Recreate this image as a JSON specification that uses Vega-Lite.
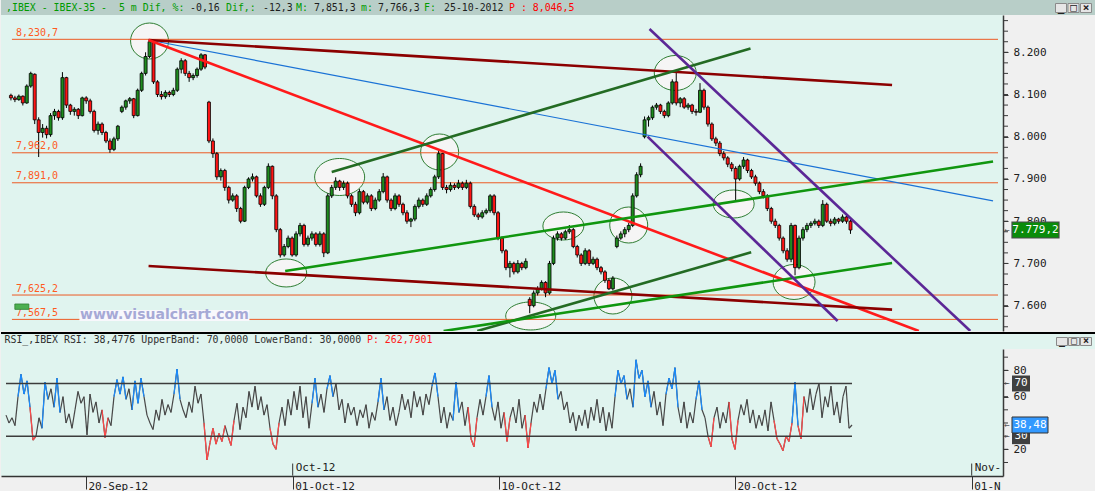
{
"$schema": "https://vega.github.io/schema/vega-lite/v6.json",
"padding": 0,
"spacing": 0,
"background": "#f0f0f0",
"resolve": {"scale": {"color": "independent"}},
"config": {"view": {"stroke": null}, "font": "DejaVu Sans Mono", "text": {"font": "DejaVu Sans Mono"}, "axis": {"labelFont": "DejaVu Sans Mono", "grid": false},
 "locale": {"number": {"decimal": ",", "thousands": ".", "grouping": [3], "currency": ["", "€"]}}},
"datasets": {
"header": [
{"i": 1, "s": ",IBEX\u00a0-\u00a0IBEX-35\u00a0-\u00a0\u00a05\u00a0m\u00a0Dif,\u00a0%:"},
{"i": 2, "s": "-0,16"}, {"i": 3, "s": "Dif,:"}, {"i": 4, "s": "-12,3"}, {"i": 5, "s": "M:"}, {"i": 6, "s": "7,851,3"},
{"i": 7, "s": "m:"}, {"i": 8, "s": "7,766,3"}, {"i": 9, "s": "F:"}, {"i": 10, "s": "25-10-2012"}, {"i": 11, "s": "P\u00a0:\u00a08,046,5"}
],
"rsiheader": [
{"part": "k", "s": "RSI_,IBEX RSI: 38,4776 UpperBand: 70,0000 LowerBand: 30,0000"},
{"part": "r", "s": "P:\u00a0262,7901"}
],
"buttons": [{"b": "_"}, {"b": "□"}, {"b": "×"}],
"hlines": [
{"p": 8230.7, "lab": "8,230,7"}, {"p": 7962.0, "lab": "7,962,0"}, {"p": 7891.0, "lab": "7,891,0"}, {"p": 7625.2, "lab": "7,625,2"}, {"p": 7567.5, "lab": "7,567,5"}
],
"pticks": [{"p":7550},{"p":7575},{"p":7600},{"p":7625},{"p":7650},{"p":7675},{"p":7700},{"p":7725},{"p":7750},{"p":7775},{"p":7800},{"p":7825},{"p":7850},{"p":7875},{"p":7900},{"p":7925},{"p":7950},{"p":7975},{"p":8000},{"p":8025},{"p":8050},{"p":8075},{"p":8100},{"p":8125},{"p":8150},{"p":8175},{"p":8200},{"p":8225},{"p":8250},{"p":8275}],
"rticks": [{"v":10},{"v":20},{"v":30},{"v":40},{"v":50},{"v":60},{"v":70},{"v":80},{"v":90}],
"ellipses": [
{"t": 145, "p": 8226.7, "k": "a"}, {"t": 438, "p": 7963.9, "k": "a"}, {"t": 629, "p": 7791.0, "k": "a"}, {"t": 613, "p": 7622.9, "k": "a"},
{"t": 676, "p": 8151.0, "k": "b"}, {"t": 796, "p": 7656.1, "k": "b"},
{"t": 283, "p": 7677.4, "k": "c"}, {"t": 563, "p": 7788.7, "k": "c"}, {"t": 735, "p": 7840.8, "k": "c"},
{"t": 337, "p": 7904.7, "k": "d"},
{"t": 530, "p": 7575.6, "k": "e"}
],
"trend": [
{"id": "dr1", "t": 144, "p": 8229.1}, {"id": "dr1", "t": 895, "p": 8122.6},
{"id": "rd", "t": 144, "p": 8229.1}, {"id": "rd", "t": 922, "p": 7540},
{"id": "dr2", "t": 144, "p": 7694}, {"id": "dr2", "t": 895, "p": 7590.7},
{"id": "dg1", "t": 329, "p": 7916.6}, {"id": "dg1", "t": 752, "p": 8209.2},
{"id": "lg1", "t": 282, "p": 7682.1}, {"id": "lg1", "t": 997, "p": 7941.4},
{"id": "dg2", "t": 476, "p": 7540}, {"id": "dg2", "t": 752.7, "p": 7726.4},
{"id": "lg2", "t": 442, "p": 7540}, {"id": "lg2", "t": 895, "p": 7701},
{"id": "pu1", "t": 650, "p": 8255.2}, {"id": "pu1", "t": 974, "p": 7540},
{"id": "pu2", "t": 648, "p": 8000.3}, {"id": "pu2", "t": 840, "p": 7563.7}
],
"thin": [{"id": "bl", "t": 144, "p": 8229.1}, {"id": "bl", "t": 997, "p": 7848}],
"marker": [{"t": 16, "p": 7597.6}],
"watermark": [{"t": 160, "p": 7577, "s": "www.visualchart.com"}],
"last": [{"p": 7779.2, "lab": "7.779,2"}],
"candles": [
{"t":5,"o":8098,"h":8102,"l":8086,"c":8092},{"t":9,"o":8092,"h":8097,"l":8082,"c":8088},{"t":13,"o":8088,"h":8100,"l":8085,"c":8096},{"t":17,"o":8096,"h":8098,"l":8074,"c":8080},
{"t":21,"o":8080,"h":8124,"l":8078,"c":8120},{"t":25,"o":8120,"h":8154,"l":8116,"c":8150},{"t":29,"o":8148,"h":8150,"l":8030,"c":8040},{"t":33,"o":8040,"h":8046,"l":7952,"c":8010},
{"t":37,"o":8010,"h":8030,"l":7998,"c":8020},{"t":41,"o":8020,"h":8026,"l":7996,"c":8005},{"t":45,"o":8005,"h":8056,"l":8000,"c":8050},{"t":49,"o":8050,"h":8066,"l":8040,"c":8060},
{"t":53,"o":8060,"h":8064,"l":8038,"c":8045},{"t":57,"o":8045,"h":8153,"l":8040,"c":8140},{"t":61,"o":8140,"h":8142,"l":8068,"c":8075},{"t":65,"o":8075,"h":8078,"l":8052,"c":8060},
{"t":69,"o":8060,"h":8070,"l":8050,"c":8065},{"t":73,"o":8065,"h":8068,"l":8042,"c":8050},{"t":77,"o":8050,"h":8095,"l":8048,"c":8092},{"t":81,"o":8092,"h":8096,"l":8078,"c":8085},
{"t":85,"o":8085,"h":8090,"l":8055,"c":8060},{"t":89,"o":8060,"h":8064,"l":8010,"c":8015},{"t":93,"o":8015,"h":8036,"l":8005,"c":8030},{"t":97,"o":8030,"h":8034,"l":8004,"c":8010},
{"t":101,"o":8010,"h":8014,"l":7985,"c":7990},{"t":105,"o":7990,"h":7996,"l":7962,"c":7970},{"t":109,"o":7970,"h":8000,"l":7966,"c":7995},{"t":113,"o":7995,"h":8028,"l":7990,"c":8025},
{"t":117,"o":8060,"h":8074,"l":8056,"c":8070},{"t":121,"o":8070,"h":8088,"l":8064,"c":8085},{"t":125,"o":8085,"h":8094,"l":8078,"c":8090},{"t":129,"o":8090,"h":8092,"l":8044,"c":8050},
{"t":133,"o":8050,"h":8114,"l":8048,"c":8110},{"t":137,"o":8110,"h":8154,"l":8106,"c":8150},{"t":141,"o":8150,"h":8200,"l":8145,"c":8190},{"t":145,"o":8190,"h":8230.7,"l":8186,"c":8225},
{"t":149,"o":8225,"h":8228,"l":8125,"c":8130},{"t":153,"o":8130,"h":8134,"l":8094,"c":8100},{"t":157,"o":8100,"h":8108,"l":8088,"c":8095},{"t":161,"o":8095,"h":8110,"l":8090,"c":8105},
{"t":165,"o":8105,"h":8109,"l":8094,"c":8100},{"t":169,"o":8100,"h":8116,"l":8096,"c":8110},{"t":173,"o":8110,"h":8164,"l":8106,"c":8160},{"t":177,"o":8160,"h":8186,"l":8150,"c":8180},
{"t":181,"o":8180,"h":8184,"l":8144,"c":8150},{"t":185,"o":8150,"h":8156,"l":8130,"c":8140},{"t":189,"o":8140,"h":8150,"l":8134,"c":8145},{"t":193,"o":8145,"h":8164,"l":8140,"c":8160},
{"t":197,"o":8160,"h":8198,"l":8156,"c":8194},{"t":201,"o":8194,"h":8196,"l":8160,"c":8165},{"t":205,"o":8082,"h":8085,"l":7985,"c":7990},{"t":209,"o":7990,"h":7996,"l":7950,"c":7960},
{"t":213,"o":7960,"h":7964,"l":7898,"c":7905},{"t":217,"o":7905,"h":7925,"l":7896,"c":7920},{"t":221,"o":7920,"h":7924,"l":7872,"c":7880},{"t":225,"o":7880,"h":7884,"l":7842,"c":7850},
{"t":229,"o":7850,"h":7866,"l":7846,"c":7860},{"t":233,"o":7860,"h":7864,"l":7822,"c":7830},{"t":237,"o":7830,"h":7834,"l":7795,"c":7800},{"t":241,"o":7800,"h":7884,"l":7798,"c":7880},
{"t":245,"o":7880,"h":7904,"l":7876,"c":7900},{"t":249,"o":7900,"h":7913,"l":7894,"c":7905},{"t":253,"o":7905,"h":7908,"l":7856,"c":7860},{"t":257,"o":7860,"h":7866,"l":7834,"c":7840},
{"t":261,"o":7840,"h":7884,"l":7836,"c":7880},{"t":265,"o":7880,"h":7937,"l":7876,"c":7930},{"t":269,"o":7930,"h":7932,"l":7852,"c":7860},{"t":273,"o":7860,"h":7864,"l":7774,"c":7780},
{"t":277,"o":7780,"h":7784,"l":7714,"c":7720},{"t":281,"o":7720,"h":7746,"l":7716,"c":7740},{"t":285,"o":7740,"h":7766,"l":7736,"c":7760},{"t":289,"o":7760,"h":7764,"l":7716,"c":7720},
{"t":293,"o":7720,"h":7776,"l":7716,"c":7770},{"t":297,"o":7770,"h":7796,"l":7764,"c":7790},{"t":301,"o":7790,"h":7794,"l":7740,"c":7745},{"t":305,"o":7745,"h":7766,"l":7740,"c":7760},
{"t":309,"o":7760,"h":7776,"l":7754,"c":7770},{"t":313,"o":7770,"h":7774,"l":7740,"c":7745},{"t":317,"o":7745,"h":7776,"l":7740,"c":7770},{"t":321,"o":7770,"h":7774,"l":7715,"c":7725},
{"t":325,"o":7725,"h":7866,"l":7722,"c":7860},{"t":329,"o":7860,"h":7886,"l":7855,"c":7880},{"t":333,"o":7880,"h":7904,"l":7874,"c":7895},{"t":337,"o":7895,"h":7898,"l":7872,"c":7880},
{"t":341,"o":7880,"h":7896,"l":7874,"c":7890},{"t":345,"o":7890,"h":7894,"l":7854,"c":7860},{"t":349,"o":7860,"h":7864,"l":7834,"c":7840},{"t":353,"o":7840,"h":7846,"l":7812,"c":7820},
{"t":357,"o":7820,"h":7876,"l":7816,"c":7870},{"t":361,"o":7870,"h":7874,"l":7840,"c":7845},{"t":365,"o":7845,"h":7866,"l":7840,"c":7860},{"t":369,"o":7860,"h":7864,"l":7824,"c":7830},
{"t":373,"o":7830,"h":7856,"l":7826,"c":7850},{"t":377,"o":7850,"h":7876,"l":7846,"c":7870},{"t":381,"o":7870,"h":7914,"l":7866,"c":7905},{"t":385,"o":7905,"h":7908,"l":7844,"c":7850},
{"t":389,"o":7850,"h":7854,"l":7824,"c":7830},{"t":393,"o":7830,"h":7866,"l":7826,"c":7860},{"t":397,"o":7860,"h":7864,"l":7834,"c":7840},{"t":401,"o":7840,"h":7844,"l":7814,"c":7820},
{"t":405,"o":7820,"h":7826,"l":7794,"c":7800},{"t":409,"o":7800,"h":7808,"l":7786,"c":7805},{"t":413,"o":7805,"h":7840,"l":7800,"c":7835},{"t":417,"o":7835,"h":7856,"l":7830,"c":7850},
{"t":421,"o":7850,"h":7854,"l":7834,"c":7840},{"t":425,"o":7840,"h":7866,"l":7836,"c":7860},{"t":429,"o":7860,"h":7880,"l":7856,"c":7875},{"t":433,"o":7875,"h":7910,"l":7870,"c":7905},
{"t":437,"o":7905,"h":7968,"l":7900,"c":7960},{"t":441,"o":7960,"h":7962,"l":7874,"c":7880},{"t":445,"o":7880,"h":7886,"l":7866,"c":7875},{"t":449,"o":7875,"h":7892,"l":7870,"c":7885},
{"t":453,"o":7885,"h":7890,"l":7874,"c":7880},{"t":457,"o":7880,"h":7898,"l":7876,"c":7890},{"t":461,"o":7890,"h":7894,"l":7874,"c":7880},{"t":465,"o":7880,"h":7898,"l":7876,"c":7890},
{"t":469,"o":7890,"h":7894,"l":7830,"c":7835},{"t":473,"o":7835,"h":7840,"l":7810,"c":7815},{"t":477,"o":7815,"h":7820,"l":7803,"c":7810},{"t":481,"o":7810,"h":7826,"l":7806,"c":7820},
{"t":485,"o":7820,"h":7830,"l":7816,"c":7825},{"t":489,"o":7825,"h":7864,"l":7820,"c":7860},{"t":493,"o":7860,"h":7864,"l":7814,"c":7820},{"t":497,"o":7820,"h":7824,"l":7755,"c":7760},
{"t":501,"o":7760,"h":7764,"l":7724,"c":7730},{"t":505,"o":7730,"h":7734,"l":7684,"c":7690},{"t":509,"o":7690,"h":7706,"l":7667,"c":7700},{"t":513,"o":7700,"h":7704,"l":7674,"c":7680},
{"t":517,"o":7680,"h":7708,"l":7676,"c":7700},{"t":521,"o":7700,"h":7704,"l":7684,"c":7690},{"t":525,"o":7690,"h":7712,"l":7686,"c":7705},{"t":529,"o":7615,"h":7620,"l":7582,"c":7600},
{"t":533,"o":7600,"h":7636,"l":7596,"c":7630},{"t":537,"o":7630,"h":7646,"l":7624,"c":7640},{"t":541,"o":7640,"h":7660,"l":7636,"c":7655},{"t":545,"o":7655,"h":7658,"l":7620,"c":7630},
{"t":549,"o":7630,"h":7706,"l":7626,"c":7700},{"t":553,"o":7700,"h":7766,"l":7696,"c":7760},{"t":557,"o":7760,"h":7776,"l":7754,"c":7770},{"t":561,"o":7770,"h":7774,"l":7754,"c":7760},
{"t":565,"o":7760,"h":7780,"l":7756,"c":7775},{"t":569,"o":7775,"h":7791,"l":7770,"c":7780},{"t":573,"o":7780,"h":7784,"l":7736,"c":7740},{"t":577,"o":7740,"h":7744,"l":7714,"c":7720},
{"t":581,"o":7720,"h":7724,"l":7694,"c":7700},{"t":585,"o":7700,"h":7736,"l":7696,"c":7730},{"t":589,"o":7730,"h":7734,"l":7694,"c":7700},{"t":593,"o":7700,"h":7716,"l":7696,"c":7710},
{"t":597,"o":7710,"h":7714,"l":7684,"c":7690},{"t":601,"o":7690,"h":7694,"l":7674,"c":7680},{"t":605,"o":7680,"h":7684,"l":7654,"c":7660},{"t":609,"o":7660,"h":7664,"l":7637,"c":7640},
{"t":613,"o":7640,"h":7670,"l":7636,"c":7665},{"t":617,"o":7740,"h":7766,"l":7736,"c":7760},{"t":621,"o":7760,"h":7776,"l":7756,"c":7770},{"t":625,"o":7770,"h":7786,"l":7762,"c":7780},
{"t":629,"o":7780,"h":7796,"l":7774,"c":7790},{"t":633,"o":7790,"h":7866,"l":7786,"c":7860},{"t":637,"o":7860,"h":7916,"l":7856,"c":7910},{"t":641,"o":7910,"h":7937,"l":7904,"c":7930},
{"t":645,"o":8000,"h":8048,"l":7996,"c":8040},{"t":649,"o":8040,"h":8050,"l":8024,"c":8045},{"t":653,"o":8045,"h":8074,"l":8040,"c":8070},{"t":657,"o":8070,"h":8080,"l":8064,"c":8075},
{"t":661,"o":8075,"h":8078,"l":8054,"c":8060},{"t":665,"o":8060,"h":8064,"l":8044,"c":8050},{"t":669,"o":8050,"h":8084,"l":8046,"c":8080},{"t":673,"o":8080,"h":8136,"l":8076,"c":8130},
{"t":677,"o":8130,"h":8158,"l":8074,"c":8080},{"t":681,"o":8080,"h":8094,"l":8070,"c":8090},{"t":685,"o":8090,"h":8094,"l":8066,"c":8070},{"t":689,"o":8070,"h":8080,"l":8064,"c":8075},
{"t":693,"o":8075,"h":8078,"l":8054,"c":8060},{"t":697,"o":8060,"h":8066,"l":8050,"c":8058},{"t":701,"o":8058,"h":8127,"l":8056,"c":8110},{"t":705,"o":8110,"h":8114,"l":8064,"c":8070},
{"t":709,"o":8070,"h":8074,"l":8024,"c":8030},{"t":713,"o":8030,"h":8034,"l":7990,"c":7995},{"t":717,"o":7995,"h":8000,"l":7978,"c":7985},{"t":721,"o":7985,"h":7990,"l":7954,"c":7960},
{"t":725,"o":7960,"h":7966,"l":7944,"c":7950},{"t":729,"o":7950,"h":7954,"l":7928,"c":7935},{"t":733,"o":7935,"h":7940,"l":7918,"c":7925},{"t":737,"o":7925,"h":7930,"l":7850,"c":7900},
{"t":741,"o":7900,"h":7934,"l":7896,"c":7930},{"t":745,"o":7930,"h":7952,"l":7924,"c":7945},{"t":749,"o":7945,"h":7948,"l":7914,"c":7920},{"t":753,"o":7920,"h":7924,"l":7900,"c":7905},
{"t":757,"o":7905,"h":7910,"l":7884,"c":7890},{"t":761,"o":7890,"h":7894,"l":7864,"c":7870},{"t":765,"o":7870,"h":7876,"l":7854,"c":7860},{"t":769,"o":7860,"h":7864,"l":7824,"c":7830},
{"t":773,"o":7830,"h":7834,"l":7794,"c":7800},{"t":777,"o":7800,"h":7806,"l":7784,"c":7790},{"t":781,"o":7790,"h":7794,"l":7754,"c":7760},{"t":785,"o":7760,"h":7764,"l":7724,"c":7730},
{"t":789,"o":7730,"h":7736,"l":7704,"c":7710},{"t":793,"o":7710,"h":7796,"l":7703,"c":7790},{"t":797,"o":7790,"h":7792,"l":7672,"c":7690},{"t":801,"o":7690,"h":7766,"l":7686,"c":7760},
{"t":805,"o":7760,"h":7786,"l":7754,"c":7780},{"t":809,"o":7780,"h":7796,"l":7774,"c":7790},{"t":813,"o":7790,"h":7800,"l":7784,"c":7795},{"t":817,"o":7795,"h":7806,"l":7790,"c":7800},
{"t":821,"o":7800,"h":7804,"l":7784,"c":7790},{"t":825,"o":7790,"h":7850,"l":7786,"c":7840},{"t":829,"o":7840,"h":7844,"l":7796,"c":7800},{"t":833,"o":7800,"h":7806,"l":7788,"c":7795},
{"t":837,"o":7795,"h":7810,"l":7790,"c":7805},{"t":841,"o":7805,"h":7808,"l":7794,"c":7800},{"t":845,"o":7800,"h":7816,"l":7796,"c":7810},{"t":849,"o":7810,"h":7814,"l":7794,"c":7800},
{"t":853,"o":7800,"h":7804,"l":7770,"c":7779.2}
],
"bands": [{"v": 70}, {"v": 30}],
"months": [{"t": 291.7, "lab": "Oct-12"}, {"t": 970.7, "lab": "Nov-"}],
"rsibox": [{"v": 70, "lab": "70"}, {"v": 30, "lab": "30"}],
"rsilast": [{"v": 38.48, "lab": "38,48"}],
"rsi": [
{"t":5,"v":46},{"t":8,"v":40},{"t":11,"v":44},{"t":14,"v":38},{"t":17,"v":60},{"t":20,"v":77},{"t":23,"v":62},{"t":26,"v":72},{"t":29,"v":52},{"t":32,"v":27},
{"t":35,"v":30},{"t":38,"v":44},{"t":41,"v":36},{"t":44,"v":71},{"t":47,"v":58},{"t":50,"v":66},{"t":53,"v":52},{"t":56,"v":74},{"t":59,"v":48},{"t":62,"v":60},
{"t":65,"v":40},{"t":68,"v":47},{"t":71,"v":36},{"t":74,"v":50},{"t":77,"v":64},{"t":80,"v":55},{"t":83,"v":60},{"t":86,"v":31},{"t":89,"v":62},{"t":92,"v":48},
{"t":95,"v":56},{"t":98,"v":40},{"t":101,"v":50},{"t":104,"v":29},{"t":107,"v":44},{"t":110,"v":38},{"t":113,"v":60},{"t":116,"v":73},{"t":119,"v":62},{"t":122,"v":75},
{"t":125,"v":58},{"t":128,"v":66},{"t":131,"v":50},{"t":134,"v":72},{"t":137,"v":55},{"t":140,"v":74},{"t":143,"v":60},{"t":146,"v":46},{"t":149,"v":40},{"t":152,"v":35},
{"t":155,"v":50},{"t":158,"v":42},{"t":161,"v":58},{"t":164,"v":46},{"t":167,"v":54},{"t":170,"v":48},{"t":173,"v":62},{"t":176,"v":81},{"t":179,"v":58},{"t":182,"v":50},
{"t":185,"v":44},{"t":188,"v":56},{"t":191,"v":48},{"t":194,"v":68},{"t":197,"v":55},{"t":200,"v":62},{"t":203,"v":40},{"t":206,"v":12},{"t":209,"v":25},{"t":212,"v":36},
{"t":215,"v":24},{"t":218,"v":32},{"t":221,"v":26},{"t":224,"v":38},{"t":227,"v":30},{"t":230,"v":23},{"t":233,"v":42},{"t":236,"v":55},{"t":239,"v":35},{"t":242,"v":52},
{"t":245,"v":44},{"t":248,"v":64},{"t":251,"v":52},{"t":254,"v":68},{"t":257,"v":50},{"t":260,"v":60},{"t":263,"v":46},{"t":266,"v":54},{"t":269,"v":36},{"t":272,"v":24},
{"t":275,"v":20},{"t":278,"v":40},{"t":281,"v":52},{"t":284,"v":38},{"t":287,"v":58},{"t":290,"v":46},{"t":293,"v":64},{"t":296,"v":50},{"t":299,"v":68},{"t":302,"v":44},
{"t":305,"v":60},{"t":308,"v":36},{"t":311,"v":55},{"t":314,"v":74},{"t":317,"v":52},{"t":320,"v":62},{"t":323,"v":48},{"t":326,"v":66},{"t":329,"v":76},{"t":332,"v":60},
{"t":335,"v":70},{"t":338,"v":50},{"t":341,"v":58},{"t":344,"v":40},{"t":347,"v":55},{"t":350,"v":46},{"t":353,"v":52},{"t":356,"v":38},{"t":359,"v":50},{"t":362,"v":44},
{"t":365,"v":54},{"t":368,"v":36},{"t":371,"v":48},{"t":374,"v":42},{"t":377,"v":56},{"t":380,"v":74},{"t":383,"v":50},{"t":386,"v":60},{"t":389,"v":42},{"t":392,"v":52},
{"t":395,"v":38},{"t":398,"v":48},{"t":401,"v":62},{"t":404,"v":50},{"t":407,"v":58},{"t":410,"v":44},{"t":413,"v":64},{"t":416,"v":52},{"t":419,"v":60},{"t":422,"v":46},
{"t":425,"v":62},{"t":428,"v":54},{"t":431,"v":68},{"t":434,"v":78},{"t":437,"v":60},{"t":440,"v":40},{"t":443,"v":52},{"t":446,"v":36},{"t":449,"v":48},{"t":452,"v":42},
{"t":455,"v":71},{"t":458,"v":48},{"t":461,"v":56},{"t":464,"v":38},{"t":467,"v":52},{"t":470,"v":28},{"t":473,"v":22},{"t":476,"v":44},{"t":479,"v":58},{"t":482,"v":46},
{"t":485,"v":60},{"t":488,"v":76},{"t":491,"v":52},{"t":494,"v":42},{"t":497,"v":56},{"t":500,"v":36},{"t":503,"v":48},{"t":506,"v":26},{"t":509,"v":44},{"t":512,"v":52},
{"t":515,"v":40},{"t":518,"v":58},{"t":521,"v":36},{"t":524,"v":46},{"t":527,"v":21},{"t":530,"v":40},{"t":533,"v":56},{"t":536,"v":48},{"t":539,"v":62},{"t":542,"v":50},
{"t":545,"v":66},{"t":548,"v":82},{"t":551,"v":70},{"t":554,"v":80},{"t":557,"v":58},{"t":560,"v":64},{"t":563,"v":50},{"t":566,"v":56},{"t":569,"v":40},{"t":572,"v":48},
{"t":575,"v":34},{"t":578,"v":46},{"t":581,"v":38},{"t":584,"v":50},{"t":587,"v":36},{"t":590,"v":52},{"t":593,"v":42},{"t":596,"v":58},{"t":599,"v":40},{"t":602,"v":52},
{"t":605,"v":34},{"t":608,"v":48},{"t":611,"v":36},{"t":614,"v":60},{"t":617,"v":80},{"t":620,"v":70},{"t":623,"v":76},{"t":626,"v":58},{"t":629,"v":66},{"t":632,"v":52},
{"t":635,"v":88},{"t":638,"v":74},{"t":641,"v":80},{"t":644,"v":60},{"t":647,"v":72},{"t":650,"v":52},{"t":653,"v":64},{"t":656,"v":46},{"t":659,"v":56},{"t":662,"v":38},
{"t":665,"v":62},{"t":668,"v":74},{"t":671,"v":66},{"t":674,"v":82},{"t":677,"v":52},{"t":680,"v":40},{"t":683,"v":56},{"t":686,"v":36},{"t":689,"v":48},{"t":692,"v":40},
{"t":695,"v":58},{"t":698,"v":72},{"t":701,"v":50},{"t":704,"v":44},{"t":707,"v":30},{"t":710,"v":22},{"t":713,"v":44},{"t":716,"v":52},{"t":719,"v":36},{"t":722,"v":48},
{"t":725,"v":40},{"t":728,"v":56},{"t":731,"v":28},{"t":734,"v":20},{"t":737,"v":42},{"t":740,"v":54},{"t":743,"v":46},{"t":746,"v":58},{"t":749,"v":40},{"t":752,"v":50},
{"t":755,"v":36},{"t":758,"v":46},{"t":761,"v":38},{"t":764,"v":50},{"t":767,"v":34},{"t":770,"v":56},{"t":773,"v":42},{"t":776,"v":28},{"t":779,"v":24},{"t":782,"v":19},
{"t":785,"v":30},{"t":788,"v":26},{"t":791,"v":40},{"t":794,"v":71},{"t":797,"v":38},{"t":800,"v":28},{"t":803,"v":60},{"t":806,"v":48},{"t":809,"v":66},{"t":812,"v":50},
{"t":815,"v":62},{"t":818,"v":70},{"t":821,"v":44},{"t":824,"v":60},{"t":827,"v":52},{"t":830,"v":68},{"t":833,"v":46},{"t":836,"v":56},{"t":839,"v":40},{"t":842,"v":60},
{"t":845,"v":68},{"t":848,"v":36},{"t":851,"v":38.48}
]
},
"vconcat": [
{
"width": 1095, "height": 15,
"view": {"fill": "#b8cec8", "stroke": null},
"layer": [
{"data": {"name": "header"}, "transform": [{"filter": "datum.i == 1"}], "mark": {"type": "text", "align": "left", "baseline": "middle", "fontSize": 9.9, "color": "#009a00"}, "encoding": {"x": {"value": 5}, "y": {"value": 7.5}, "text": {"field": "s", "type": "nominal"}}},
{"data": {"name": "header"}, "transform": [{"filter": "datum.i == 2"}], "mark": {"type": "text", "align": "left", "baseline": "middle", "fontSize": 9.9, "color": "#1e1e1e"}, "encoding": {"x": {"value": 189}, "y": {"value": 7.5}, "text": {"field": "s", "type": "nominal"}}},
{"data": {"name": "header"}, "transform": [{"filter": "datum.i == 3"}], "mark": {"type": "text", "align": "left", "baseline": "middle", "fontSize": 9.9, "color": "#009a00"}, "encoding": {"x": {"value": 225}, "y": {"value": 7.5}, "text": {"field": "s", "type": "nominal"}}},
{"data": {"name": "header"}, "transform": [{"filter": "datum.i == 4"}], "mark": {"type": "text", "align": "left", "baseline": "middle", "fontSize": 9.9, "color": "#1e1e1e"}, "encoding": {"x": {"value": 262}, "y": {"value": 7.5}, "text": {"field": "s", "type": "nominal"}}},
{"data": {"name": "header"}, "transform": [{"filter": "datum.i == 5"}], "mark": {"type": "text", "align": "left", "baseline": "middle", "fontSize": 9.9, "color": "#009a00"}, "encoding": {"x": {"value": 295}, "y": {"value": 7.5}, "text": {"field": "s", "type": "nominal"}}},
{"data": {"name": "header"}, "transform": [{"filter": "datum.i == 6"}], "mark": {"type": "text", "align": "left", "baseline": "middle", "fontSize": 9.9, "color": "#1e1e1e"}, "encoding": {"x": {"value": 313}, "y": {"value": 7.5}, "text": {"field": "s", "type": "nominal"}}},
{"data": {"name": "header"}, "transform": [{"filter": "datum.i == 7"}], "mark": {"type": "text", "align": "left", "baseline": "middle", "fontSize": 9.9, "color": "#009a00"}, "encoding": {"x": {"value": 360}, "y": {"value": 7.5}, "text": {"field": "s", "type": "nominal"}}},
{"data": {"name": "header"}, "transform": [{"filter": "datum.i == 8"}], "mark": {"type": "text", "align": "left", "baseline": "middle", "fontSize": 9.9, "color": "#1e1e1e"}, "encoding": {"x": {"value": 377}, "y": {"value": 7.5}, "text": {"field": "s", "type": "nominal"}}},
{"data": {"name": "header"}, "transform": [{"filter": "datum.i == 9"}], "mark": {"type": "text", "align": "left", "baseline": "middle", "fontSize": 9.9, "color": "#009a00"}, "encoding": {"x": {"value": 423}, "y": {"value": 7.5}, "text": {"field": "s", "type": "nominal"}}},
{"data": {"name": "header"}, "transform": [{"filter": "datum.i == 10"}], "mark": {"type": "text", "align": "left", "baseline": "middle", "fontSize": 9.9, "color": "#1e1e1e"}, "encoding": {"x": {"value": 443}, "y": {"value": 7.5}, "text": {"field": "s", "type": "nominal"}}},
{"data": {"name": "header"}, "transform": [{"filter": "datum.i == 11"}], "mark": {"type": "text", "align": "left", "baseline": "middle", "fontSize": 9.9, "color": "#ff0000"}, "encoding": {"x": {"value": 508}, "y": {"value": 7.5}, "text": {"field": "s", "type": "nominal"}}},
{"data": {"name": "buttons"}, "mark": {"type": "point", "shape": "M-5.5,-4.5H5.5V4.5H-5.5Z", "size": 4, "filled": true, "fill": "#e6e6e6", "stroke": "#8a8a8a", "strokeWidth": 1, "opacity": 1},
 "encoding": {"x": {"field": "b", "type": "nominal", "scale": {"domain": ["_", "□", "×"], "range": [1060, 1085], "padding": 0}, "axis": null}, "y": {"value": 8}}},
{"data": {"name": "buttons"}, "mark": {"type": "text", "fontSize": 11, "fontWeight": "bold", "color": "#222222", "baseline": "middle"},
 "encoding": {"x": {"field": "b", "type": "nominal", "axis": null}, "y": {"value": 7.5}, "text": {"field": "b", "type": "nominal"}}}
]
},
{
"width": 1002, "height": 316,
"view": {"fill": "#e0f4ef", "stroke": null},
"layer": [
{"data": {"name": "ellipses"}, "transform": [{"filter": "datum.k == 'a'"}], "mark": {"type": "point", "shape": "M-19,0A19,18 0 1,1 19,0A19,18 0 1,1 -19,0Z", "size": 4, "filled": true, "fill": "#f5f5f5", "stroke": "#2e7d32", "strokeWidth": 1, "opacity": 1},
 "encoding": {"x": {"field": "t", "type": "quantitative", "axis": null, "scale": {"domain": [0, 1002], "nice": false, "zero": false}},
  "y": {"field": "p", "type": "quantitative", "title": null, "scale": {"domain": [7540, 8288.3], "nice": false, "zero": false},
   "axis": {"orient": "right", "values": [7600, 7700, 7800, 7900, 8000, 8100, 8200], "format": ",d", "tickSize": 5, "labelPadding": 5, "domainColor": "#3a3a3a", "domainWidth": 1.5, "tickColor": "#3a3a3a", "labelColor": "#202020", "labelFontSize": 11, "labelFont": "DejaVu Sans Mono", "labelAlign": "left", "labelBaseline": "middle", "grid": false, "title": null, "labelFlush": false}}}},
{"data": {"name": "ellipses"}, "transform": [{"filter": "datum.k == 'b'"}], "mark": {"type": "point", "shape": "M-21,0A21,17.5 0 1,1 21,0A21,17.5 0 1,1 -21,0Z", "size": 4, "filled": true, "fill": "#f5f5f5", "stroke": "#2e7d32", "strokeWidth": 1, "opacity": 1},
 "encoding": {"x": {"field": "t", "type": "quantitative", "axis": null}, "y": {"field": "p", "type": "quantitative", "title": null}}},
{"data": {"name": "ellipses"}, "transform": [{"filter": "datum.k == 'c'"}], "mark": {"type": "point", "shape": "M-20.5,0A20.5,14 0 1,1 20.5,0A20.5,14 0 1,1 -20.5,0Z", "size": 4, "filled": true, "fill": "#f5f5f5", "stroke": "#2e7d32", "strokeWidth": 1, "opacity": 1},
 "encoding": {"x": {"field": "t", "type": "quantitative", "axis": null}, "y": {"field": "p", "type": "quantitative", "title": null}}},
{"data": {"name": "ellipses"}, "transform": [{"filter": "datum.k == 'd'"}], "mark": {"type": "point", "shape": "M-25,0A25,18.5 0 1,1 25,0A25,18.5 0 1,1 -25,0Z", "size": 4, "filled": true, "fill": "#f5f5f5", "stroke": "#2e7d32", "strokeWidth": 1, "opacity": 1},
 "encoding": {"x": {"field": "t", "type": "quantitative", "axis": null}, "y": {"field": "p", "type": "quantitative", "title": null}}},
{"data": {"name": "ellipses"}, "transform": [{"filter": "datum.k == 'e'"}], "mark": {"type": "point", "shape": "M-25,0A25,14 0 1,1 25,0A25,14 0 1,1 -25,0Z", "size": 4, "filled": true, "fill": "#f5f5f5", "stroke": "#2e7d32", "strokeWidth": 1, "opacity": 1},
 "encoding": {"x": {"field": "t", "type": "quantitative", "axis": null}, "y": {"field": "p", "type": "quantitative", "title": null}}},
{"data": {"name": "hlines"}, "mark": {"type": "rule", "color": "#ec5a24", "strokeWidth": 1},
 "encoding": {"x": {"datum": 6, "type": "quantitative", "axis": null}, "x2": {"datum": 1002}, "y": {"field": "p", "type": "quantitative", "title": null}}},
{"data": {"name": "watermark"}, "mark": {"type": "point", "shape": "M-85,-5.5H85V5.5H-85Z", "size": 4, "filled": true, "fill": "#f8f8fc", "opacity": 1, "strokeWidth": 0},
 "encoding": {"x": {"field": "t", "type": "quantitative", "axis": null}, "y": {"field": "p", "type": "quantitative", "title": null}}},
{"data": {"name": "watermark"}, "mark": {"type": "text", "font": "DejaVu Sans", "fontWeight": "bold", "fontSize": 14, "color": "#a6a9d6", "align": "center", "baseline": "middle"},
 "encoding": {"x": {"field": "t", "type": "quantitative", "axis": null}, "y": {"field": "p", "type": "quantitative", "title": null}, "text": {"field": "s", "type": "nominal"}}},
{"data": {"name": "candles"}, "mark": {"type": "rule", "color": "#000000", "strokeWidth": 1},
 "encoding": {"x": {"field": "t", "type": "quantitative", "axis": null}, "y": {"field": "l", "type": "quantitative", "title": null}, "y2": {"field": "h"}}},
{"data": {"name": "candles"}, "mark": {"type": "bar", "width": 3, "stroke": "#000000", "strokeWidth": 0.8},
 "encoding": {"x": {"field": "t", "type": "quantitative", "axis": null}, "y": {"field": "o", "type": "quantitative", "title": null}, "y2": {"field": "c"},
  "color": {"condition": {"test": "datum.c >= datum.o", "value": "#1e8c1e"}, "value": "#ff1414"}}},
{"data": {"name": "thin"}, "mark": {"type": "line", "clip": true, "strokeWidth": 1.2, "color": "#1a72d6"},
 "encoding": {"x": {"field": "t", "type": "quantitative", "axis": null}, "y": {"field": "p", "type": "quantitative", "title": null}}},
{"data": {"name": "trend"}, "mark": {"type": "line", "clip": true, "strokeCap": "butt", "strokeWidth": 2.6},
 "encoding": {"x": {"field": "t", "type": "quantitative", "axis": null}, "y": {"field": "p", "type": "quantitative", "title": null},
  "color": {"field": "id", "type": "nominal", "legend": null, "scale": {"domain": ["dr1", "rd", "dr2", "dg1", "lg1", "dg2", "lg2", "pu1", "pu2"], "range": ["#8b0000", "#ff1a1a", "#8b0000", "#236b23", "#10960f", "#236b23", "#10960f", "#5b2796", "#5b2796"]}}}},
{"data": {"name": "hlines"}, "mark": {"type": "text", "align": "left", "baseline": "middle", "dx": 4, "dy": -6.5, "fontSize": 10, "color": "#ff5a1e"},
 "encoding": {"x": {"datum": 6, "type": "quantitative", "axis": null}, "y": {"field": "p", "type": "quantitative", "title": null}, "text": {"field": "lab", "type": "nominal"}}},
{"data": {"name": "marker"}, "mark": {"type": "point", "shape": "M-7,-2.7H7V2.7H-7Z", "size": 4, "filled": true, "fill": "#4caf50", "stroke": "#2e7d32", "strokeWidth": 0.8, "opacity": 1},
 "encoding": {"x": {"field": "t", "type": "quantitative", "axis": null}, "y": {"field": "p", "type": "quantitative", "title": null}}},
{"data": {"name": "pticks"}, "mark": {"type": "rule", "color": "#3a3a3a", "strokeWidth": 1},
 "encoding": {"x": {"value": 1002}, "x2": {"value": 1007}, "y": {"field": "p", "type": "quantitative", "title": null}}},
{"data": {"name": "last"}, "mark": {"type": "point", "shape": "M-23.5,-8H23.5V8H-23.5Z", "size": 4, "filled": true, "fill": "#0a8c0a", "stroke": "#4a4a4a", "strokeWidth": 1.2, "opacity": 1},
 "encoding": {"x": {"value": 1034.5}, "y": {"field": "p", "type": "quantitative", "title": null}}},
{"data": {"name": "last"}, "mark": {"type": "text", "align": "center", "baseline": "middle", "fontSize": 11, "color": "#ffffff"},
 "encoding": {"x": {"value": 1034.5}, "y": {"field": "p", "type": "quantitative", "title": null}, "text": {"field": "lab", "type": "nominal"}}},
{"data": {"name": "last"}, "mark": {"type": "text", "align": "center", "baseline": "middle", "fontSize": 9, "color": "#555555", "text": "←"},
 "encoding": {"x": {"value": 1006}, "y": {"field": "p", "type": "quantitative", "title": null}}}
]
},
{
"width": 1095, "height": 17,
"view": {"fill": "#e0f4ef", "stroke": null},
"layer": [
{"data": {"values": [{"z": 0}]}, "mark": {"type": "rule", "color": "#000000", "strokeWidth": 2},
 "encoding": {"x": {"value": 0}, "x2": {"value": 1095}, "y": {"value": 1}, "y2": {"value": 1}}},
{"data": {"name": "rsiheader"}, "transform": [{"filter": "datum.part == 'k'"}], "mark": {"type": "text", "align": "left", "baseline": "middle", "fontSize": 9.9, "color": "#303030"},
 "encoding": {"x": {"value": 3.5}, "y": {"value": 8}, "text": {"field": "s", "type": "nominal"}}},
{"data": {"name": "rsiheader"}, "transform": [{"filter": "datum.part == 'r'"}], "mark": {"type": "text", "align": "left", "baseline": "middle", "fontSize": 9.9, "color": "#ff1a1a"},
 "encoding": {"x": {"value": 366}, "y": {"value": 8}, "text": {"field": "s", "type": "nominal"}}},
{"data": {"name": "buttons"}, "mark": {"type": "point", "shape": "M-5.5,-4H5.5V4H-5.5Z", "size": 4, "filled": true, "fill": "#e6e6e6", "stroke": "#8a8a8a", "strokeWidth": 1, "opacity": 1},
 "encoding": {"x": {"field": "b", "type": "nominal", "scale": {"domain": ["_", "□", "×"], "range": [1061, 1085], "padding": 0}, "axis": null}, "y": {"value": 9.5}}},
{"data": {"name": "buttons"}, "mark": {"type": "text", "fontSize": 10, "fontWeight": "bold", "color": "#222222", "baseline": "middle"},
 "encoding": {"x": {"field": "b", "type": "nominal", "axis": null}, "y": {"value": 9}, "text": {"field": "b", "type": "nominal"}}}
]
},
{
"width": 1002, "height": 127,
"view": {"fill": "#e0f4ef", "stroke": null},
"layer": [
{"data": {"name": "rsi"},
 "transform": [{"window": [{"op": "lead", "field": "v", "as": "v2"}, {"op": "lead", "field": "t", "as": "t2"}], "sort": [{"field": "t", "order": "ascending"}]}, {"filter": "datum.t2 != null"}],
 "mark": {"type": "rule", "strokeWidth": 1.2, "color": "#474747"},
 "encoding": {
  "x": {"field": "t", "type": "quantitative", "title": null, "scale": {"domain": [0, 1002], "nice": false, "zero": false},
   "axis": {"values": [85, 291.7, 498, 734, 970.7], "labelExpr": "datum.value < 100 ? '20-Sep-12' : datum.value < 300 ? '01-Oct-12' : datum.value < 600 ? '10-Oct-12' : datum.value < 800 ? '20-Oct-12' : '01-N'", "domainColor": "#333333", "domainWidth": 1.5, "tickColor": "#333333", "tickSize": 13, "labelPadding": -3, "labelAlign": "left", "labelBaseline": "middle", "labelOffset": 2, "labelFontSize": 11, "labelColor": "#202020", "labelFlush": false, "labelOverlap": false, "labelBound": false, "grid": false, "title": null}},
  "x2": {"field": "t2"},
  "y": {"field": "v", "type": "quantitative", "title": null, "scale": {"domain": [-0.26, 96.2], "nice": false, "zero": false},
   "axis": {"orient": "right", "values": [20, 60, 80], "tickSize": 5, "labelPadding": 5, "domainColor": "#3a3a3a", "domainWidth": 1.5, "tickColor": "#3a3a3a", "labelColor": "#202020", "labelFontSize": 11, "labelAlign": "left", "labelBaseline": "middle", "grid": false, "title": null, "labelFlush": false}},
  "y2": {"field": "v2"}}},
{"data": {"name": "rsi"},
 "transform": [{"window": [{"op": "lead", "field": "v", "as": "v2"}, {"op": "lead", "field": "t", "as": "t2"}], "sort": [{"field": "t", "order": "ascending"}]}, {"filter": "datum.t2 != null && (datum.v > 70 || datum.v2 > 70)"}],
 "mark": {"type": "rule", "strokeWidth": 1.2, "color": "#1a8cff"},
 "encoding": {"x": {"field": "t", "type": "quantitative", "title": null}, "x2": {"field": "t2"}, "y": {"field": "v", "type": "quantitative", "title": null}, "y2": {"field": "v2"}}},
{"data": {"name": "rsi"},
 "transform": [{"window": [{"op": "lead", "field": "v", "as": "v2"}, {"op": "lead", "field": "t", "as": "t2"}], "sort": [{"field": "t", "order": "ascending"}]}, {"filter": "datum.t2 != null && (datum.v < 30 || datum.v2 < 30)"}],
 "mark": {"type": "rule", "strokeWidth": 1.2, "color": "#ff4a4a"},
 "encoding": {"x": {"field": "t", "type": "quantitative", "title": null}, "x2": {"field": "t2"}, "y": {"field": "v", "type": "quantitative", "title": null}, "y2": {"field": "v2"}}},
{"data": {"name": "bands"}, "mark": {"type": "rule", "color": "#3c3c3c", "strokeWidth": 1.5},
 "encoding": {"x": {"datum": 5, "type": "quantitative"}, "x2": {"datum": 851}, "y": {"field": "v", "type": "quantitative", "title": null}}},
{"data": {"name": "months"}, "mark": {"type": "rule", "color": "#333333", "strokeWidth": 1},
 "encoding": {"x": {"field": "t", "type": "quantitative", "title": null}, "y": {"datum": 0, "type": "quantitative"}, "y2": {"datum": 9.2}}},
{"data": {"name": "months"}, "mark": {"type": "text", "align": "left", "baseline": "middle", "dx": 3, "fontSize": 11, "color": "#202020"},
 "encoding": {"x": {"field": "t", "type": "quantitative", "title": null}, "y": {"datum": 5.9, "type": "quantitative"}, "text": {"field": "lab", "type": "nominal"}}},
{"data": {"name": "rticks"}, "mark": {"type": "rule", "color": "#3a3a3a", "strokeWidth": 1},
 "encoding": {"x": {"value": 1002}, "x2": {"value": 1007}, "y": {"field": "v", "type": "quantitative", "title": null}}},
{"data": {"name": "rsibox"}, "mark": {"type": "point", "shape": "M-9,-8H9V8H-9Z", "size": 4, "filled": true, "fill": "#404040", "opacity": 1, "strokeWidth": 0},
 "encoding": {"x": {"value": 1020}, "y": {"field": "v", "type": "quantitative", "title": null}}},
{"data": {"name": "rsibox"}, "mark": {"type": "text", "align": "center", "baseline": "middle", "fontSize": 11, "color": "#ffffff"},
 "encoding": {"x": {"value": 1020}, "y": {"field": "v", "type": "quantitative", "title": null}, "text": {"field": "lab", "type": "nominal"}}},
{"data": {"name": "rsilast"}, "mark": {"type": "point", "shape": "M-18,-8H18V8H-18Z", "size": 4, "filled": true, "fill": "#3399ff", "stroke": "#333333", "strokeWidth": 1, "opacity": 1},
 "encoding": {"x": {"value": 1029}, "y": {"field": "v", "type": "quantitative", "title": null}}},
{"data": {"name": "rsilast"}, "mark": {"type": "text", "align": "center", "baseline": "middle", "fontSize": 11, "color": "#ffffff"},
 "encoding": {"x": {"value": 1029}, "y": {"field": "v", "type": "quantitative", "title": null}, "text": {"field": "lab", "type": "nominal"}}},
{"data": {"name": "rsibox"}, "mark": {"type": "text", "align": "center", "baseline": "middle", "fontSize": 9, "color": "#555555", "text": "←"},
 "encoding": {"x": {"value": 1006}, "y": {"field": "v", "type": "quantitative", "title": null}}},
{"data": {"name": "rsilast"}, "mark": {"type": "text", "align": "center", "baseline": "middle", "fontSize": 9, "color": "#555555", "text": "←"},
 "encoding": {"x": {"value": 1006}, "y": {"field": "v", "type": "quantitative", "title": null}}}
]
}
]
}
